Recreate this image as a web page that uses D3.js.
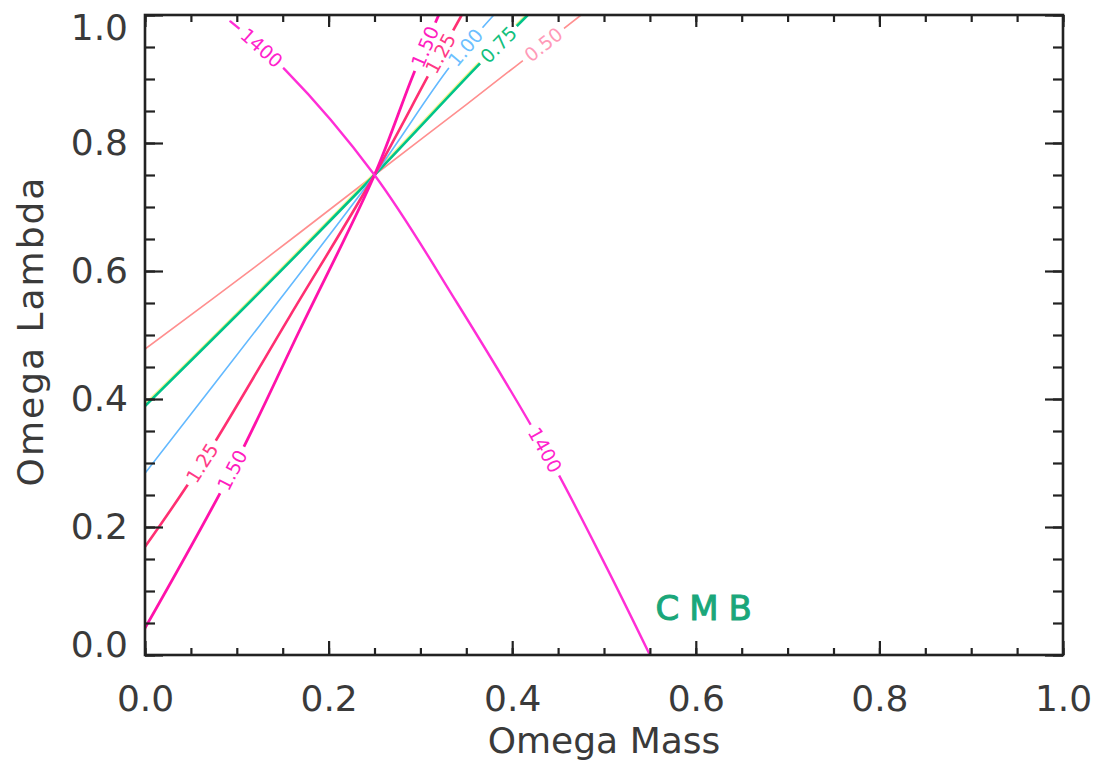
<!DOCTYPE html>
<html>
<head>
<meta charset="utf-8">
<script src="https://cdn.jsdelivr.net/npm/d3@7"></script>
<style>
  body { margin: 0; background: #fff; }
  svg { display: block; }
</style>
</head>
<body>
<svg id="chart" width="1097" height="764"></svg>
<script>
// Contour levels, each traced as (Omega Mass, Omega Lambda) points
const curve1400 = [[0.093, 0.99], [0.153, 0.914], [0.25, 0.75], [0.34, 0.55], [0.436, 0.32], [0.501, 0.142], [0.55, 0.0]];
const curve150  = [[0.0, 0.042], [0.095, 0.289], [0.169, 0.509], [0.25, 0.75], [0.292, 0.906], [0.32, 1.0]];
const curve125  = [[0.0, 0.169], [0.062, 0.30], [0.158, 0.53], [0.25, 0.75], [0.31, 0.909], [0.345, 1.0]];
const curve100  = [[0.0, 0.284], [0.125, 0.515], [0.25, 0.75], [0.332, 0.919], [0.38, 1.0]];
const curve075  = [[0.0, 0.389], [0.125, 0.567], [0.25, 0.75], [0.36, 0.917], [0.417, 1.0]];
const curve050  = [[0.0, 0.478], [0.125, 0.612], [0.25, 0.75], [0.35, 0.86], [0.475, 1.0]];

const levelNames = ["0.50", "0.75", "1.00", "1.25", "1.50", "1400"];
const levelCurves = [curve050, curve075, curve100, curve125, curve150, curve1400];

// Omega Mass positions where each contour carries its inline label
const labelXs = [[0.434], [0.385], [0.349], [0.062, 0.322], [0.095, 0.305], [0.127, 0.436]];

const xMajorTicks = [0.0, 0.2, 0.4, 0.6, 0.8, 1.0];
const yMajorTicks = [0.0, 0.2, 0.4, 0.6, 0.8, 1.0];
const minorStep = 0.05;

const xTitle = "Omega Mass";
const yTitle = "Omega Lambda";
const noteText = "CMB";
const notePos = [0.556, 0.055];

// ---- styling ----
const lineStyle = {
  "0.50": { stroke: "#ff8f8f", width: 1.6, text: "#ff9ab8", fringe: null },
  "0.75": { stroke: "#00c48a", width: 2.6, text: "#12c07e", fringe: "#f4f060" },
  "1.00": { stroke: "#63b9ff", width: 1.6, text: "#6cbfff", fringe: null },
  "1.25": { stroke: "#ff2f72", width: 2.6, text: "#ff3a86", fringe: null },
  "1.50": { stroke: "#ff12aa", width: 2.8, text: "#ff1cc0", fringe: null },
  "1400": { stroke: "#ff2ed6", width: 2.4, text: "#ff22cc", fringe: null }
};

const W = 1097, H = 764;
const plot = { left: 145, right: 1063, top: 15, bottom: 655 };
const axisColor = "#222";
const labelColor = "#3a3a3a";
const font = "'DejaVu Sans', 'Liberation Sans', sans-serif";

const svg = d3.select("#chart");

const x = d3.scaleLinear().domain([0, 1]).range([plot.left, plot.right]);
const y = d3.scaleLinear().domain([0, 1]).range([plot.bottom, plot.top]);

const minorTicks = d3.range(0, 1 + 1e-9, minorStep).map(v => +v.toFixed(2));

svg.append("defs").append("clipPath").attr("id", "plotClip")
  .append("rect")
  .attr("x", plot.left).attr("y", plot.top)
  .attr("width", plot.right - plot.left).attr("height", plot.bottom - plot.top);

// ---- contour curves ----
const lineGen = d3.line()
  .x(d => x(d[0]))
  .y(d => y(d[1]))
  .curve(d3.curveCatmullRom.alpha(0.5));

const curvesG = svg.append("g").attr("clip-path", "url(#plotClip)");
const labelsG = svg.append("g");

levelNames.forEach((name, i) => {
  const st = lineStyle[name];
  if (st.fringe) {
    // faint misregistered edge that runs along the printed line
    curvesG.append("path")
      .datum(levelCurves[i])
      .attr("d", lineGen)
      .attr("transform", "translate(-1,-1.2)")
      .attr("fill", "none")
      .attr("stroke", st.fringe)
      .attr("stroke-width", st.width * 0.7)
      .attr("stroke-opacity", 0.7);
  }
  const path = curvesG.append("path")
    .datum(levelCurves[i])
    .attr("d", lineGen)
    .attr("fill", "none")
    .attr("stroke", st.stroke)
    .attr("stroke-width", st.width)
    .attr("stroke-linecap", "round")
    .attr("stroke-linejoin", "round");

  const node = path.node();
  const total = node.getTotalLength();

  labelXs[i].forEach(lx => {
    const target = x(lx);
    // walk the path to find the point at this Omega Mass
    let best = 0, bestD = Infinity;
    for (let s = 0; s <= total; s += 0.5) {
      const p = node.getPointAtLength(s);
      const d = Math.abs(p.x - target);
      if (d < bestD) { bestD = d; best = s; }
    }
    const p = node.getPointAtLength(best);
    const a = node.getPointAtLength(Math.max(0, best - 6));
    const b = node.getPointAtLength(Math.min(total, best + 6));
    const ang = Math.atan2(b.y - a.y, b.x - a.x) * 180 / Math.PI;

    const g = labelsG.append("g")
      .attr("transform", `translate(${p.x},${p.y}) rotate(${ang})`);
    const gap = g.append("rect").attr("fill", "#fff");
    const t = g.append("text")
      .attr("text-anchor", "middle")
      .attr("dy", "0.36em")
      .attr("font-family", font)
      .attr("font-size", 19)
      .attr("fill", st.text)
      .text(name);
    const len = t.node().getComputedTextLength();
    gap.attr("x", -len / 2 - 5).attr("y", -8).attr("width", len + 10).attr("height", 16);
  });
});

// ---- frame and ticks on all four sides ----
const fmt = d3.format(".1f");

function styleAxis(g) {
  g.select(".domain").remove();
  g.selectAll(".tick line").attr("stroke", axisColor).attr("stroke-width", 2.2);
}

// bottom
svg.append("g").attr("transform", `translate(0,${plot.bottom})`)
  .call(d3.axisBottom(x).tickValues(minorTicks).tickSize(-7).tickFormat(""))
  .call(styleAxis);
svg.append("g").attr("transform", `translate(0,${plot.bottom})`)
  .call(d3.axisBottom(x).tickValues(xMajorTicks).tickSize(-14).tickPadding(30).tickFormat(fmt))
  .call(styleAxis)
  .call(g => g.selectAll("text")
    .attr("font-family", font).attr("font-size", 36).attr("fill", labelColor));

// top
svg.append("g").attr("transform", `translate(0,${plot.top})`)
  .call(d3.axisTop(x).tickValues(minorTicks).tickSize(-7).tickFormat(""))
  .call(styleAxis);
svg.append("g").attr("transform", `translate(0,${plot.top})`)
  .call(d3.axisTop(x).tickValues(xMajorTicks).tickSize(-12).tickFormat(""))
  .call(styleAxis);

// left
svg.append("g").attr("transform", `translate(${plot.left},0)`)
  .call(d3.axisLeft(y).tickValues(minorTicks).tickSize(-10).tickFormat(""))
  .call(styleAxis);
svg.append("g").attr("transform", `translate(${plot.left},0)`)
  .call(d3.axisLeft(y).tickValues(yMajorTicks).tickSize(-18).tickPadding(17).tickFormat(fmt))
  .call(styleAxis)
  .call(g => g.selectAll("text")
    .attr("font-family", font).attr("font-size", 36).attr("fill", labelColor)
    .attr("dy", d => d === 1 ? "0.68em" : d === 0 ? "0.05em" : "0.32em"));

// right
svg.append("g").attr("transform", `translate(${plot.right},0)`)
  .call(d3.axisRight(y).tickValues(minorTicks).tickSize(-10).tickFormat(""))
  .call(styleAxis);
svg.append("g").attr("transform", `translate(${plot.right},0)`)
  .call(d3.axisRight(y).tickValues(yMajorTicks).tickSize(-18).tickFormat(""))
  .call(styleAxis);

// box
svg.append("rect")
  .attr("x", plot.left).attr("y", plot.top)
  .attr("width", plot.right - plot.left).attr("height", plot.bottom - plot.top)
  .attr("fill", "none").attr("stroke", axisColor).attr("stroke-width", 2.6);

// ---- axis titles ----
svg.append("text")
  .attr("x", (plot.left + plot.right) / 2).attr("y", 753)
  .attr("text-anchor", "middle")
  .attr("font-family", font).attr("font-size", 36).attr("fill", labelColor)
  .text(xTitle);

svg.append("text")
  .attr("transform", `translate(43,${(plot.top + plot.bottom) / 2 - 4}) rotate(-90)`)
  .attr("text-anchor", "middle")
  .attr("font-family", font).attr("font-size", 36).attr("fill", labelColor)
  .attr("letter-spacing", 2)
  .text(yTitle);

// ---- annotation ----
svg.append("text")
  .attr("x", x(notePos[0])).attr("y", y(notePos[1]))
  .attr("font-family", font).attr("font-size", 34)
  .attr("letter-spacing", 10)
  .attr("fill", "#1aa77a").attr("stroke", "#1aa77a").attr("stroke-width", 1)
  .text(noteText);
</script>
</body>
</html>
